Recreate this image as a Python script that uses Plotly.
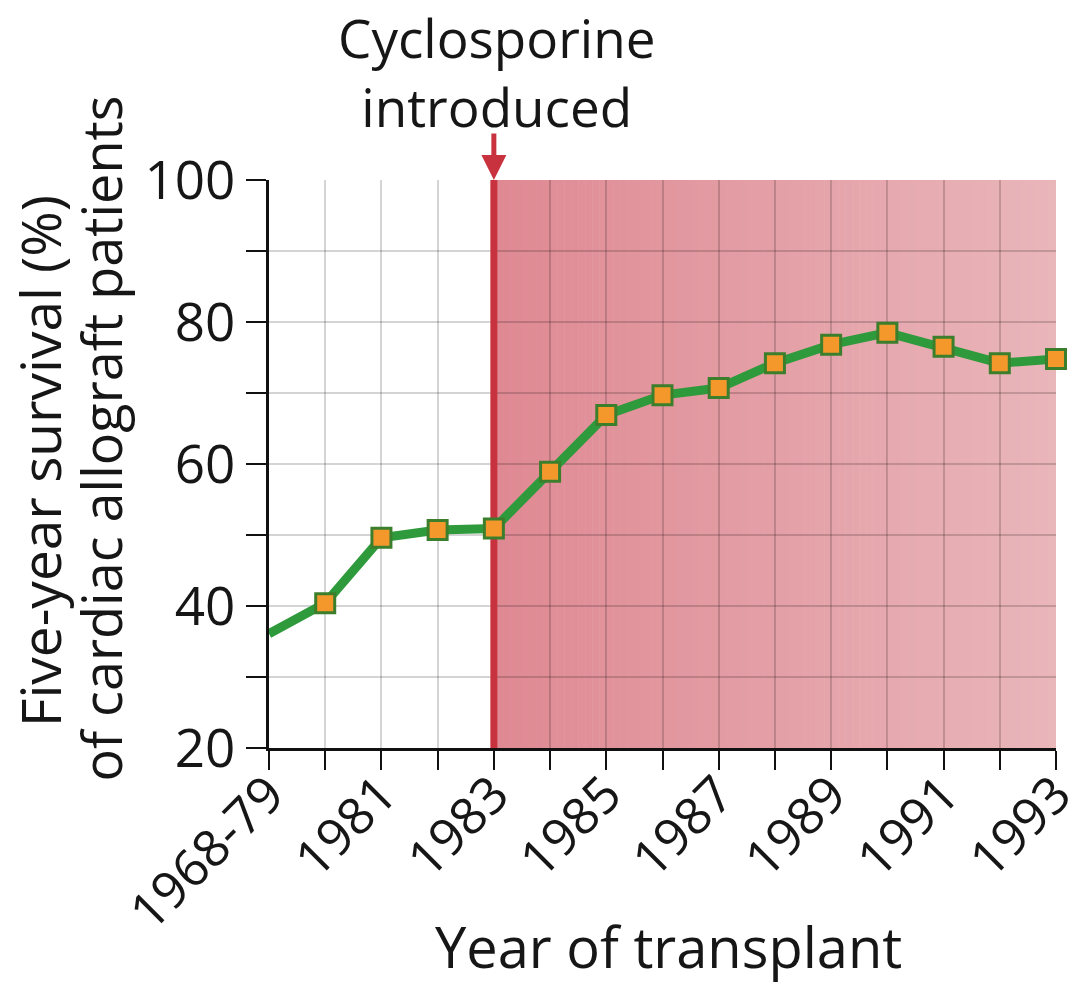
import plotly.graph_objects as go

# Transplant-year categories and five-year survival (%)
years = ["1968-79", "1980", "1981", "1982", "1983", "1984", "1985", "1986",
         "1987", "1988", "1989", "1990", "1991", "1992", "1993"]
survival = [36.1, 40.4, 49.6, 50.7, 50.9, 58.9, 66.9, 69.7, 70.7, 74.2,
            76.8, 78.5, 76.5, 74.2, 74.8]
labelled_years = ["1968-79", "1981", "1983", "1985", "1987", "1989", "1991", "1993"]
y_ticks = [20, 30, 40, 50, 60, 70, 80, 90, 100]
y_labels = [20, 40, 60, 80, 100]
intro_year = "1983"

FONT = "Open Sans"
TXT = "#161616"

intro_idx = years.index(intro_year)
last_idx = len(years) - 1

fig = go.Figure()

fig.add_trace(go.Scatter(
    x=years, y=survival, mode="lines+markers",
    line=dict(color="#2f9a3b", width=9),
    marker=dict(symbol="square", size=19, color="#f4982c",
                line=dict(color="#3b7f2c", width=3),
                opacity=[0] + [1] * (len(years) - 1)),
    cliponaxis=False, showlegend=False, hoverinfo="x+y",
))

# Shaded post-cyclosporine period: left-to-right pink gradient built from thin strips
c0 = (223, 137, 147)
c1 = (233, 182, 186)
n = 80
shapes = []
for i in range(n):
    t = i / (n - 1)
    col = tuple(round(a + (b - a) * t) for a, b in zip(c0, c1))
    xa = intro_idx + (last_idx - intro_idx) * i / n
    xb = intro_idx + (last_idx - intro_idx) * (i + 1) / n + 0.01
    shapes.append(dict(type="rect", xref="x", yref="y", x0=xa, x1=min(xb, last_idx),
                       y0=20, y1=100, fillcolor="rgb(%d,%d,%d)" % col,
                       line=dict(width=0), layer="below"))
# Red marker line for the introduction year
shapes.append(dict(type="line", xref="x", yref="y", x0=intro_idx, x1=intro_idx,
                   y0=20, y1=100, line=dict(color="#c8323f", width=7), layer="between"))

annotations = [
    dict(text="Cyclosporine<br>introduced", xref="paper", yref="paper", x=0.2897, y=1.3169,
         showarrow=False, font=dict(family=FONT, size=53, color=TXT),
         xanchor="center", yanchor="top", borderpad=0),
    dict(text="", xref="x", yref="y", x=intro_idx, y=100, ax=0, ay=-48,
         showarrow=True, arrowhead=2, arrowsize=1.0, arrowwidth=5,
         arrowcolor="#c8323f", standoff=0),
    dict(text="Five-year survival (%)", xref="paper", yref="paper", x=-0.2925, y=0.505,
         textangle=-90, showarrow=False, font=dict(family=FONT, size=55, color=TXT),
         xanchor="center", yanchor="middle", borderpad=0),
    dict(text="of cardiac allograft patients", xref="paper", yref="paper", x=-0.214, y=0.544,
         textangle=-90, showarrow=False, font=dict(family=FONT, size=54, color=TXT),
         xanchor="center", yanchor="middle", borderpad=0),
    dict(text="Year of transplant", xref="paper", yref="paper", x=0.507, y=-0.348,
         showarrow=False, font=dict(family=FONT, size=56, color=TXT),
         xanchor="center", yanchor="middle", borderpad=0),
]

fig.update_layout(
    width=1073, height=984,
    margin=dict(l=269, r=17, t=180, b=236),
    paper_bgcolor="white", plot_bgcolor="white",
    font=dict(family=FONT, color=TXT),
    shapes=shapes, annotations=annotations,
    xaxis=dict(
        type="category", range=[0, last_idx], automargin=False,
        tickmode="array", tickvals=years,
        ticktext=[y if y in labelled_years else "" for y in years],
        tickangle=-45, tickfont=dict(family=FONT, size=51, color=TXT),
        ticklabelstandoff=-26,
        ticks="outside", ticklen=19, tickwidth=2, tickcolor="#111",
        showline=True, linecolor="#111", linewidth=3,
        showgrid=True, gridcolor="rgba(0,0,0,0.17)", gridwidth=2,
        zeroline=False, fixedrange=True,
    ),
    yaxis=dict(
        range=[20, 100], automargin=False,
        tickmode="array", tickvals=y_ticks,
        ticktext=[str(v) if v in y_labels else "" for v in y_ticks],
        tickfont=dict(family=FONT, size=53, color=TXT),
        ticks="outside", ticklen=20, tickwidth=2, tickcolor="#111",
        showline=True, linecolor="#111", linewidth=3,
        showgrid=True, gridcolor="rgba(0,0,0,0.17)", gridwidth=2,
        zeroline=False, fixedrange=True,
    ),
)

fig.write_html("out.html")
